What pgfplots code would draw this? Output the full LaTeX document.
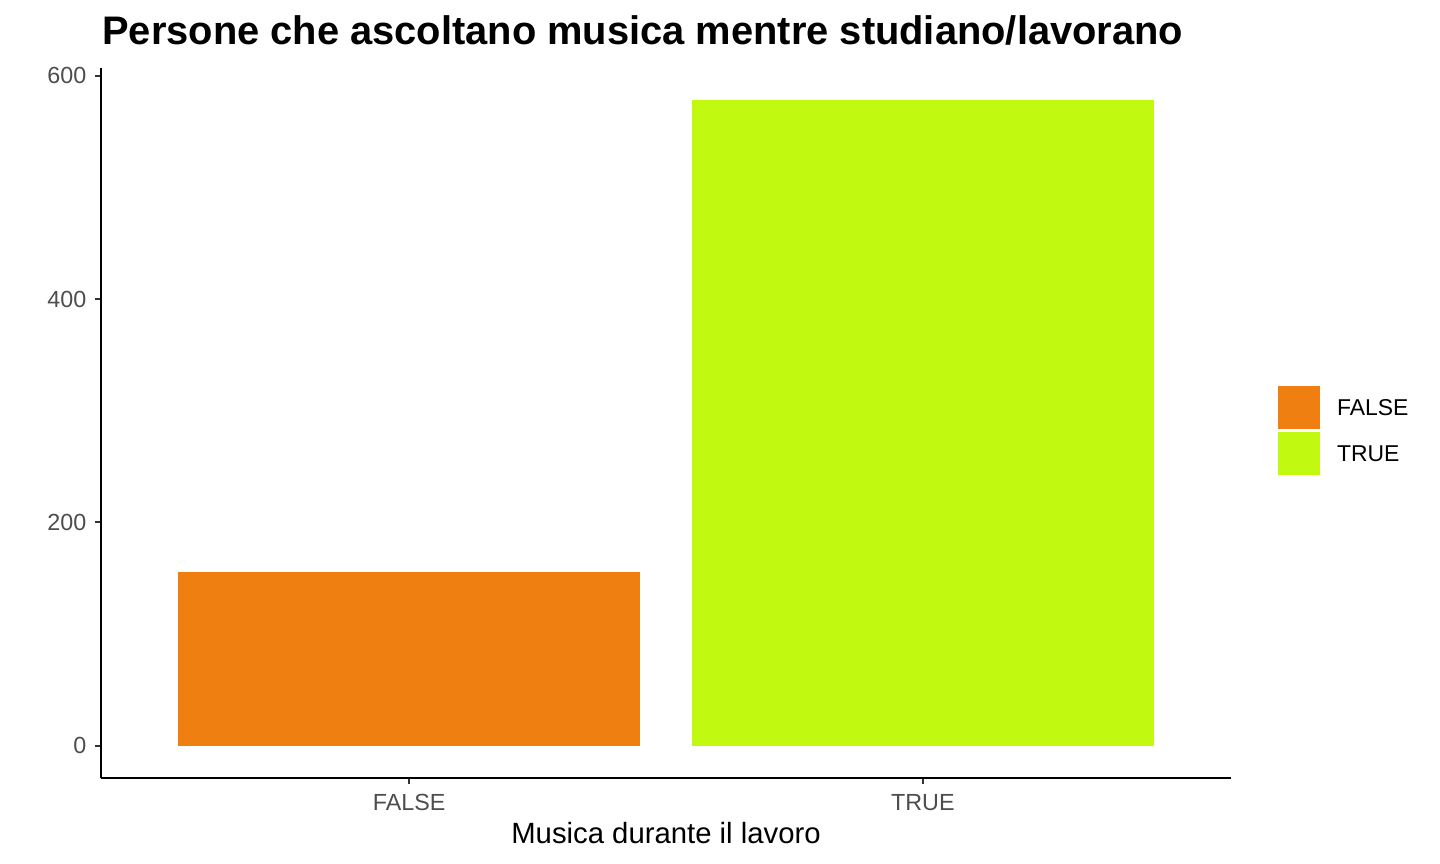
\documentclass[border=0pt]{standalone}
\usepackage{fontspec}
\setmainfont{Liberation Sans}
\usepackage{pgfplots}
\pgfplotsset{compat=1.18}

\definecolor{barfalse}{HTML}{F07F12}
\definecolor{bartrue}{HTML}{C2F911}
\definecolor{grey20}{HTML}{333333}
\definecolor{grey30}{HTML}{4D4D4D}

\pgfplotsset{
  keybox/.style={legend image code/.code={
    \fill[##1] (0bp,-9.85bp) rectangle (21bp,11.65bp);}},
}

\begin{document}
\begin{tikzpicture}
\begin{axis}[
  scale only axis, width=565bp, height=355bp,
  xmin=0.4, xmax=2.6, ymin=-28.9, ymax=606.9,
  axis x line*=bottom, axis y line*=left,
  axis line style={black, line width=1.1bp, -},
  xtick={1,2}, xticklabels={FALSE,TRUE},
  ytick={0,200,400,600},
  tick align=outside, major tick length=3.2bp,
  tick style={grey20, line width=1.1bp},
  /pgf/number format/assume math mode=true,
  tick label style={font=\fontsize{11.7}{14}\selectfont, text=grey30},
  xticklabel style={anchor=base, inner sep=0pt, yshift=-12.8bp},
  yticklabel style={anchor=east, inner sep=0pt, xshift=-3.95bp},
  xlabel={Musica durante il lavoro},
  xlabel style={at={(axis description cs:0.5,0)}, anchor=base, inner sep=0pt,
    yshift=-32.7bp, font=\fontsize{14.7}{17}\selectfont},
  title={Persone che ascoltano musica mentre studiano/lavorano},
  title style={at={(axis description cs:0,1)}, anchor=base west, inner sep=0pt,
    yshift=5.85bp, xshift=0.5bp, font=\bfseries\fontsize{20}{24}\selectfont},
  legend style={at={(axis description cs:1.0416,0.5524)}, anchor=north west,
    draw=none, fill=none, inner sep=0pt, outer sep=0pt,
    row sep=1.5bp, column sep=0pt,
    nodes={inner sep=0pt, font=\fontsize{11.5}{14}\selectfont, text=black}},
  legend cell align=left,
]
\addplot[ybar, bar width=0.9, bar shift=0pt, fill=barfalse, draw=none, keybox]
  coordinates {(1,156)};
\addlegendentry{\hspace{8.5bp}FALSE}
\addplot[ybar, bar width=0.9, bar shift=0pt, fill=bartrue, draw=none, keybox]
  coordinates {(2,578)};
\addlegendentry{\hspace{8.5bp}TRUE}
\end{axis}
\pgfresetboundingbox
\path ([shift={(-50.5bp,-43bp)}]current axis.south west) rectangle ++(720bp,432bp);
\end{tikzpicture}
\end{document}
